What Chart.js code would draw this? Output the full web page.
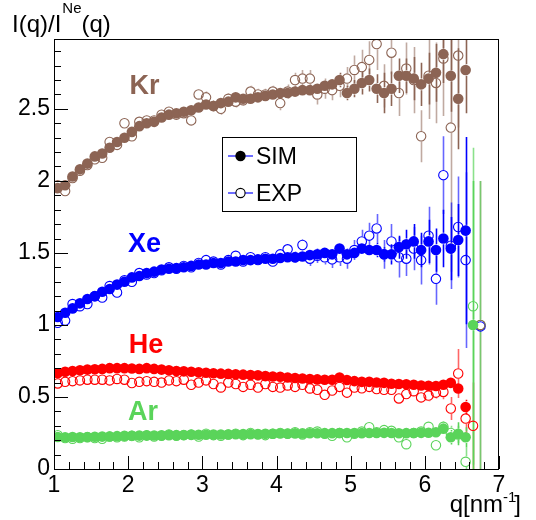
<!DOCTYPE html>
<html><head><meta charset="utf-8">
<script src="https://cdn.jsdelivr.net/npm/chart.js@4"></script>
<style>html,body{margin:0;padding:0;background:#fff;}canvas{display:block;}</style>
</head><body>
<canvas id="c" width="536" height="520"></canvas>
<script>
// ---- data ----
const qValues = [1.05,1.15,1.25,1.35,1.45,1.55,1.65,1.75,1.85,1.95,
  2.05,2.15,2.25,2.35,2.45,2.55,2.65,2.75,2.85,2.95,
  3.05,3.15,3.25,3.35,3.45,3.55,3.65,3.75,3.85,3.95,
  4.05,4.15,4.25,4.35,4.45,4.55,4.65,4.75,4.85,4.95,
  5.05,5.15,5.25,5.35,5.45,5.55,5.65,5.75,5.85,5.95,
  6.05,6.15,6.25,6.35,6.45,6.55,6.65,6.75];

const xTickLabels = [1,2,3,4,5,6,7];
const yTickLabels = [0,0.5,1,1.5,2,2.5];

const krSim = [1.95,1.97,2.03,2.08,2.12,2.17,2.19,2.23,2.27,2.30,
  2.34,2.38,2.40,2.41,2.44,2.46,2.47,2.48,2.49,2.51,
  2.53,2.52,2.54,2.55,2.58,2.57,2.57,2.58,2.59,2.60,
  2.61,2.61,2.62,2.63,2.63,2.64,2.66,2.67,2.70,2.61,
  2.64,2.68,2.70,2.64,2.61,2.64,2.73,2.73,2.71,2.67,
  2.71,2.75,2.88,2.73,2.57,2.77,null,null];
const krSimErr = [0.01,0.01,0.01,0.01,0.01,0.01,0.01,0.01,0.01,0.01,
  0.01,0.01,0.01,0.01,0.01,0.01,0.01,0.01,0.01,0.01,
  0.02,0.02,0.02,0.02,0.02,0.02,0.02,0.02,0.02,0.02,
  0.03,0.03,0.03,0.03,0.03,0.04,0.04,0.04,0.05,0.05,
  0.06,0.08,0.08,0.10,0.14,0.12,0.12,0.12,0.15,0.15,
  0.18,0.20,0.20,0.25,0.35,0.30,null,null];
const krExp = [1.97,1.93,2.02,2.07,2.11,2.15,2.16,2.27,2.25,2.40,
  2.31,2.41,2.42,2.42,2.46,2.48,2.46,2.47,2.42,2.60,
  2.58,2.52,2.50,2.57,2.55,2.56,2.62,2.60,2.60,2.62,
  2.54,2.62,2.70,2.71,2.71,2.60,2.64,2.63,2.66,2.71,
  2.77,2.79,2.84,2.95,2.66,2.89,2.61,2.78,2.70,2.31,
  2.73,2.68,2.85,2.37,2.87,null,null,1.00];
const krExpErr = [0.02,0.02,0.02,0.02,0.02,0.02,0.02,0.02,0.02,0.02,
  0.03,0.03,0.03,0.03,0.03,0.03,0.03,0.03,0.03,0.03,
  0.04,0.04,0.04,0.04,0.04,0.04,0.04,0.04,0.04,0.04,
  0.05,0.05,0.05,0.06,0.06,0.07,0.07,0.07,0.08,0.08,
  0.10,0.12,0.13,0.18,0.15,0.15,0.16,0.18,0.23,0.18,
  0.30,0.28,0.40,1.00,0.50,null,null,1.00];

const xeSim = [1.055,1.085,1.115,1.15,1.18,1.20,1.23,1.25,1.28,1.30,
  1.33,1.34,1.36,1.37,1.385,1.39,1.395,1.40,1.41,1.42,
  1.42,1.43,1.43,1.44,1.44,1.45,1.45,1.455,1.46,1.46,
  1.465,1.47,1.47,1.475,1.485,1.49,1.50,1.49,1.53,1.49,
  1.50,1.53,1.52,1.52,1.49,1.49,1.54,1.56,1.58,1.52,
  1.58,1.52,1.60,1.53,1.59,1.655,null,null];
const xeSimErr = [0.005,0.005,0.005,0.005,0.005,0.005,0.005,0.005,0.005,0.005,
  0.005,0.005,0.005,0.005,0.005,0.005,0.005,0.005,0.005,0.005,
  0.01,0.01,0.01,0.01,0.01,0.01,0.01,0.01,0.01,0.01,
  0.02,0.02,0.02,0.02,0.02,0.02,0.02,0.02,0.03,0.03,
  0.04,0.04,0.04,0.05,0.05,0.07,0.08,0.10,0.12,0.12,
  0.15,0.15,0.20,0.22,0.25,0.65,null,null];
const xeExp = [1.015,1.03,1.145,1.13,1.145,1.20,1.19,1.27,1.225,1.31,
  1.30,1.36,1.35,1.36,1.38,1.40,1.39,1.41,1.40,1.43,
  1.45,1.44,1.42,1.45,1.48,1.44,1.47,1.45,1.47,1.44,
  1.49,1.525,1.47,1.555,1.46,1.48,1.47,1.455,1.47,1.46,
  1.52,1.58,1.62,1.67,1.49,1.58,1.47,1.46,1.53,1.45,
  1.62,1.32,2.04,1.55,1.68,1.45,null,0.99];
const xeExpErr = [0.01,0.01,0.01,0.01,0.01,0.01,0.01,0.01,0.01,0.01,
  0.01,0.01,0.01,0.01,0.01,0.01,0.01,0.01,0.01,0.01,
  0.02,0.02,0.02,0.02,0.02,0.02,0.02,0.02,0.02,0.02,
  0.03,0.03,0.04,0.04,0.05,0.05,0.05,0.06,0.06,0.07,
  0.07,0.08,0.09,0.10,0.10,0.12,0.14,0.12,0.15,0.17,
  0.20,0.18,0.27,0.30,0.35,0.61,null,0];

const heSim = [0.665,0.675,0.68,0.685,0.69,0.692,0.695,0.70,0.70,0.70,
  0.698,0.695,0.70,0.695,0.69,0.685,0.68,0.678,0.675,0.672,
  0.668,0.665,0.662,0.66,0.658,0.655,0.652,0.65,0.645,0.642,
  0.64,0.635,0.632,0.628,0.625,0.622,0.62,0.62,0.635,0.618,
  0.61,0.605,0.605,0.60,0.598,0.592,0.59,0.588,0.585,0.58,
  0.578,0.576,0.585,0.598,0.559,0.43,null,null];
const heSimErr = [0.005,0.005,0.005,0.005,0.005,0.005,0.005,0.005,0.005,0.005,
  0.005,0.005,0.005,0.005,0.005,0.005,0.005,0.005,0.005,0.005,
  0.005,0.005,0.005,0.005,0.005,0.005,0.005,0.005,0.005,0.005,
  0.005,0.005,0.005,0.005,0.005,0.005,0.005,0.005,0.005,0.005,
  0.01,0.01,0.01,0.01,0.01,0.01,0.01,0.01,0.01,0.01,
  0.02,0.02,0.02,0.03,0.04,0.05,null,null];
const heExp = [0.594,0.605,0.61,0.615,0.62,0.62,0.62,0.615,0.625,0.62,
  0.597,0.605,0.61,0.605,0.60,0.615,0.61,0.62,0.585,0.60,
  0.615,0.59,0.566,0.60,0.59,0.57,0.585,0.565,0.59,0.57,
  0.565,0.58,0.57,0.585,0.559,0.55,0.515,0.545,0.57,0.53,
  0.565,0.56,0.57,0.555,0.55,0.55,0.49,0.52,0.54,0.497,
  0.51,0.53,0.535,0.42,0.663,0.35,0.30,null];
const heExpErr = [0.01,0.01,0.01,0.01,0.01,0.01,0.01,0.01,0.01,0.01,
  0.01,0.01,0.01,0.01,0.01,0.01,0.01,0.01,0.01,0.01,
  0.01,0.01,0.01,0.01,0.01,0.01,0.01,0.01,0.01,0.01,
  0.015,0.015,0.015,0.015,0.015,0.02,0.02,0.02,0.02,0.02,
  0.02,0.02,0.02,0.02,0.02,0.03,0.03,0.03,0.03,0.03,
  0.04,0.04,0.05,0.08,0.17,0.10,0.30,null];

const arSim = [0.222,0.22,0.222,0.22,0.222,0.224,0.225,0.226,0.228,0.23,
  0.23,0.232,0.232,0.233,0.234,0.235,0.235,0.236,0.237,0.238,
  0.238,0.239,0.24,0.24,0.241,0.242,0.242,0.243,0.244,0.245,
  0.246,0.246,0.247,0.247,0.248,0.248,0.249,0.249,0.25,0.25,
  0.25,0.249,0.25,0.25,0.251,0.25,0.248,0.249,0.25,0.251,
  0.252,0.255,0.28,0.22,0.245,0.22,1.00,null];
const arSimErr = [0.005,0.005,0.005,0.005,0.005,0.005,0.005,0.005,0.005,0.005,
  0.005,0.005,0.005,0.005,0.005,0.005,0.005,0.005,0.005,0.005,
  0.005,0.005,0.005,0.005,0.005,0.005,0.005,0.005,0.005,0.005,
  0.005,0.005,0.005,0.005,0.005,0.005,0.005,0.005,0.005,0.005,
  0.01,0.01,0.01,0.01,0.01,0.01,0.01,0.01,0.01,0.01,
  0.02,0.02,0.03,0.05,0.08,0.07,1.00,null];
const arExp = [0.235,0.215,0.21,0.215,0.22,0.215,0.21,0.225,0.22,0.225,
  0.23,0.22,0.235,0.225,0.23,0.24,0.23,0.235,0.24,0.225,
  0.245,0.235,0.23,0.24,0.245,0.235,0.25,0.24,0.235,0.245,
  0.25,0.245,0.255,0.24,0.255,0.26,0.245,0.23,0.25,0.22,
  0.245,0.26,0.29,0.255,0.27,0.265,0.22,0.172,0.25,0.26,
  0.293,0.165,0.293,0.25,0.24,0.05,1.13,1.00];
const arExpErr = [0.01,0.01,0.01,0.01,0.01,0.01,0.01,0.01,0.01,0.01,
  0.01,0.01,0.01,0.01,0.01,0.01,0.01,0.01,0.01,0.01,
  0.01,0.01,0.01,0.01,0.01,0.01,0.01,0.01,0.01,0.01,
  0.01,0.01,0.01,0.01,0.01,0.015,0.015,0.015,0.015,0.015,
  0.02,0.02,0.02,0.02,0.02,0.02,0.02,0.02,0.02,0.02,
  0.03,0.03,0.04,0.05,0.06,0.10,1.10,1.00];

const speciesNames = ['Kr','Xe','He','Ar'];
const seriesNames = ['SIM','EXP'];

// ---- styling ----
const COLORS = {Kr:'rgb(140,100,84)', Xe:'rgb(0,0,255)', He:'rgb(255,0,0)', Ar:'rgb(90,212,90)'};
const EXPBAR = {Kr:'rgba(140,100,84,0.55)', Xe:'rgba(0,0,255,0.6)', He:'rgba(255,0,0,0.6)', Ar:'rgba(90,212,90,0.7)'};
const FONT = 'Liberation Sans, Arial, Helvetica, sans-serif';

function pts(vals){ return qValues.map((q,i)=>({x:q, y:vals[i]})).filter(p=>p.y!==null && p.y!==undefined); }
function errs(vals, e){ return qValues.map((q,i)=>({x:q, y:vals[i], e:e[i]})).filter(p=>p.y!==null && p.y!==undefined); }

const sets = [
  ['Kr', krSim, krSimErr, krExp, krExpErr],
  ['Xe', xeSim, xeSimErr, xeExp, xeExpErr],
  ['He', heSim, heSimErr, heExp, heExpErr],
  ['Ar', arSim, arSimErr, arExp, arExpErr],
];
const datasets = [];
sets.forEach(([name, sim, simE, exp, expE])=>{
  datasets.push({label:name+' EXP', data:pts(exp), errData:errs(exp,expE), errColor:EXPBAR[name],
    pointRadius:4.7, borderWidth:1.1, pointBorderColor:COLORS[name], borderColor:COLORS[name],
    pointBackgroundColor:'rgba(0,0,0,0)', backgroundColor:'rgba(0,0,0,0)', showLine:false, order:2, clip:0});
  datasets.push({label:name+' SIM', data:pts(sim), errData:errs(sim,simE), errColor:COLORS[name],
    pointRadius:5.3, borderWidth:0, pointBorderColor:COLORS[name], borderColor:COLORS[name],
    pointBackgroundColor:COLORS[name], backgroundColor:COLORS[name], showLine:false, order:1, clip:0});
});

const errorBars = {
  id:'errorBars',
  beforeDatasetsDraw(chart){
    const {ctx, chartArea:a, scales:{x,y}} = chart;
    ctx.save();
    ctx.beginPath(); ctx.rect(a.left, a.top, a.right-a.left, a.bottom-a.top); ctx.clip();
    ctx.lineWidth = 1.6;
    chart.data.datasets.slice().sort((p,q)=>q.order-p.order).forEach(ds=>{
      ctx.strokeStyle = ds.errColor;
      const r = ds.pointRadius + 0.5;
      ds.errData.forEach(p=>{
        if (!p.e) return;
        const px = Math.round(x.getPixelForValue(p.x)) + 0.5;
        const py = y.getPixelForValue(p.y);
        const top = y.getPixelForValue(p.y + p.e);
        const bot = y.getPixelForValue(p.y - p.e);
        ctx.beginPath();
        if (py - r > top) { ctx.moveTo(px, top); ctx.lineTo(px, py - r); }
        if (py + r < bot) { ctx.moveTo(px, py + r); ctx.lineTo(px, bot); }
        ctx.stroke();
      });
    });
    ctx.restore();
  }
};

const frameTicks = {
  id:'frameTicks',
  afterDatasetsDraw(chart){
    const {ctx, chartArea:a, scales:{x,y}} = chart;
    ctx.save();
    ctx.strokeStyle = '#000'; ctx.lineWidth = 1;
    ctx.strokeRect(a.left+0.5, a.top+0.5, a.right-a.left-1, a.bottom-a.top);
    ctx.beginPath();
    const xmin = xTickLabels[0], xmax = xTickLabels[xTickLabels.length-1];
    for (let k=0; k<=(xmax-xmin)*5; k++){
      const v = xmin + k*0.2;
      const px = Math.round(x.getPixelForValue(v)) + 0.5;
      const len = (k % 5 === 0) ? 13 : 7;
      ctx.moveTo(px, a.bottom); ctx.lineTo(px, a.bottom - len);
    }
    for (let k=0; k<=29; k++){
      const v = k*0.1;
      const py = Math.round(y.getPixelForValue(v)) + 0.5;
      const len = (k % 5 === 0) ? 14 : 7;
      ctx.moveTo(a.left, py); ctx.lineTo(a.left + len, py);
    }
    ctx.stroke();
    ctx.restore();
  }
};

const labelPos = {Kr:[2.22,2.606], Xe:[2.22,1.509], He:[2.24,0.8025], Ar:[2.20,0.339]};
const texts = {
  id:'texts',
  afterDraw(chart){
    const {ctx, scales:{x,y}} = chart;
    ctx.save();
    // species labels
    ctx.font = 'bold 27px ' + FONT;
    ctx.textAlign = 'center'; ctx.textBaseline = 'alphabetic';
    speciesNames.forEach(n=>{
      ctx.fillStyle = COLORS[n];
      ctx.fillText(n, x.getPixelForValue(labelPos[n][0]), y.getPixelForValue(labelPos[n][1]));
    });
    // y title
    ctx.fillStyle = '#000'; ctx.textAlign = 'left';
    let cx = 12;
    ctx.font = '24px ' + FONT;
    ctx.fillText('I(q)/I', cx, 32); cx += ctx.measureText('I(q)/I').width + 1;
    ctx.font = '15px ' + FONT;
    ctx.fillText('Ne', cx, 13); cx += ctx.measureText('Ne').width;
    ctx.font = '24px ' + FONT;
    ctx.fillText('(q)', cx, 32);
    // x title (right aligned)
    ctx.font = '24px ' + FONT;
    const w1 = ctx.measureText('q[nm').width, w3 = ctx.measureText(']').width;
    ctx.font = '15px ' + FONT;
    const w2 = ctx.measureText('-1').width;
    let sx = 523 - w1 - w2 - w3;
    ctx.font = '24px ' + FONT;
    ctx.fillText('q[nm', sx, 512);
    ctx.font = '15px ' + FONT;
    ctx.fillText('-1', sx + w1, 502);
    ctx.font = '24px ' + FONT;
    ctx.fillText(']', sx + w1 + w2 - 2, 512);
    // legend
    ctx.strokeStyle = '#000'; ctx.lineWidth = 1;
    ctx.fillStyle = '#fff';
    ctx.fillRect(222.5, 137.5, 134, 74);
    ctx.strokeRect(222.5, 137.5, 134, 74);
    const rows = [156, 193];
    seriesNames.forEach((nm, i)=>{
      const ry = rows[i];
      ctx.strokeStyle = 'rgb(60,60,255)'; ctx.lineWidth = 1.5;
      ctx.beginPath(); ctx.moveTo(228, ry); ctx.lineTo(253, ry); ctx.stroke();
      ctx.beginPath(); ctx.arc(240.5, ry, i===0 ? 5.2 : 4.6, 0, Math.PI*2);
      if (i===0){ ctx.fillStyle='#000'; ctx.fill(); }
      else { ctx.fillStyle='#fff'; ctx.fill(); ctx.strokeStyle='#000'; ctx.lineWidth=1.1; ctx.stroke(); }
      ctx.fillStyle = '#000'; ctx.font = '23px ' + FONT; ctx.textAlign='left';
      ctx.fillText(nm, 256, ry + 8);
    });
    ctx.restore();
  }
};

new Chart(document.getElementById('c'), {
  type:'scatter',
  data:{datasets},
  options:{
    responsive:false, animation:false, devicePixelRatio:1,
    layout:{padding:{top:39, right:37, left:0, bottom:0}},
    plugins:{legend:{display:false}, tooltip:{enabled:false}},
    scales:{
      x:{type:'linear', min:1, max:7,
        grid:{display:false, drawTicks:false}, border:{display:false},
        afterBuildTicks:s=>{ s.ticks = xTickLabels.map(v=>({value:v})); },
        afterFit:s=>{ s.height = 51; },
        ticks:{color:'#000', font:{family:FONT, size:23}, padding:3, maxRotation:0, autoSkip:false, callback:v=>String(v)}},
      y:{type:'linear', min:0, max:2.985,
        grid:{display:false, drawTicks:false}, border:{display:false},
        afterBuildTicks:s=>{ s.ticks = yTickLabels.map(v=>({value:v})); },
        afterFit:s=>{ s.width = 54; },
        ticks:{color:'#000', font:{family:FONT, size:23}, padding:4, autoSkip:false, callback:v=>String(v)}}
    }
  },
  plugins:[errorBars, frameTicks, texts]
});
</script>
</body></html>
